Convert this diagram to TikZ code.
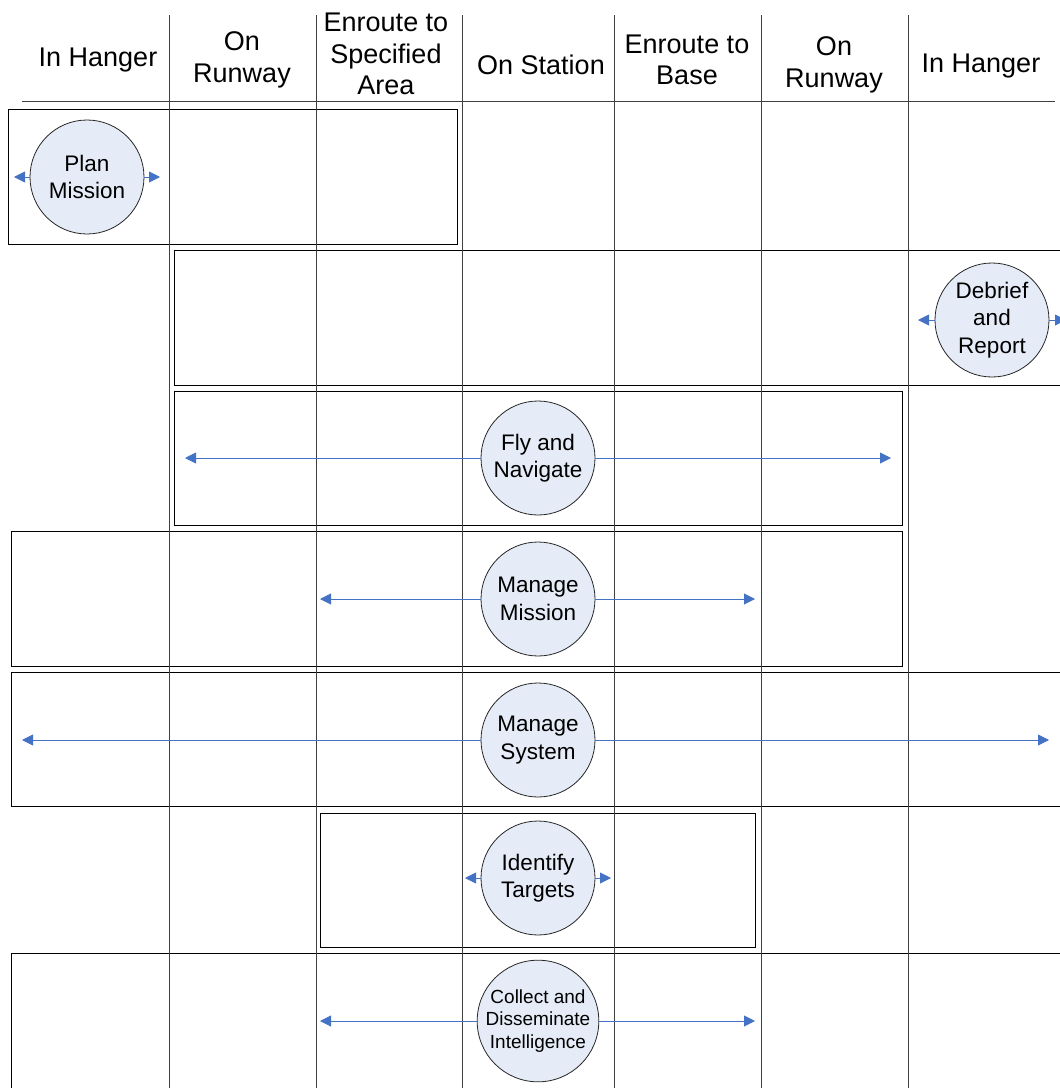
\documentclass[tikz,border=0pt]{standalone}
\usepackage{fontspec}
\setmainfont{Liberation Sans}
\usepackage{tikz}
\usetikzlibrary{arrows.meta,positioning}

\definecolor{taskfill}{RGB}{230,236,247}
\definecolor{flowblue}{RGB}{68,114,196}

\begin{document}
\begin{tikzpicture}[x=1pt, y=-1pt,
    phase/.style={align=center, font=\fontsize{27}{31.5}\selectfont},
    lane/.style={draw=black, line width=0.9pt},
    grid/.style={draw=black!75, line width=1pt},
    task/.style={shape=circle, draw=black!85, line width=0.8pt, fill=taskfill,
                 minimum size=114pt, inner sep=0pt, align=center,
                 font=\fontsize{22.5}{27.5}\selectfont},
    flow/.style={draw=flowblue, line width=0.9pt,
                 -{Triangle[length=11pt, width=11pt, fill=flowblue]}}]
      \clip (0,0) rectangle (1060,1088);
      \useasboundingbox (0,0) rectangle (1060,1088);

      % lanes
      \draw[lane] (8,109) rectangle (457,244);
      \draw[lane] (174,250) rectangle (1080,385);
      \draw[lane] (174,391) rectangle (902,525);
      \draw[lane] (11,531) rectangle (902,666);
      \draw[lane] (11,672) rectangle (1080,806);
      \draw[lane] (320,813) rectangle (755,947);
      \draw[lane] (11,953) rectangle (1080,1100);

      % phase columns
      \foreach \x in {169,316,462,614,761,908}
        \draw[grid] (\x,15) -- (\x,1090);
      \draw[grid] (22,101) -- (1055,101);

      \node[phase] (hangerA) at (98,60) {In Hanger};
      \node[phase] (runwayA) at (242,60) {On\\Runway};
      \node[phase] (enrArea) at (386,54) {Enroute to\\Specified\\Area};
      \node[phase] (station) at (541,65) {On Station};
      \node[phase] (enrBase) at (687,60) {Enroute to\\Base};
      \node[phase] (runwayB) at (834,65) {On\\Runway};
      \node[phase] (hangerB) at (981,66) {In Hanger};

      % tasks
      \node[task] (plan) at (87,177) {Plan\\Mission};
      \node[task] (debrief) at (992,320) {Debrief\\and\\Report};
      \node[task] (fly) at (538,458) {Fly and\\Navigate};
      \node[task] (mission) at (538,599) {Manage\\Mission};
      \node[task] (system) at (538,740) {Manage\\System};
      \node[task] (identify) at (538,878) {Identify\\Targets};
      \node[task, font=\fontsize{19}{22.5}\selectfont] (collect) at (538,1021)
           {Collect and\\Disseminate\\Intelligence};

      \coordinate (planL) at (14,177);
      \coordinate (planR) at (160,177);
      \coordinate (debriefL) at (918,320);
      \coordinate (debriefR) at (1066,320);
      \coordinate (flyL) at (185,458);
      \coordinate (flyR) at (891,458);
      \coordinate (missionL) at (320,599);
      \coordinate (missionR) at (755,599);
      \coordinate (systemL) at (22,740);
      \coordinate (systemR) at (1049,740);
      \coordinate (identifyL) at (465,878);
      \coordinate (identifyR) at (611,878);
      \coordinate (collectL) at (320,1021);
      \coordinate (collectR) at (755,1021);

      \foreach \t in {plan,debrief,fly,mission,system,identify,collect} {
        \draw[flow] (\t) -- (\t L);
        \draw[flow] (\t) -- (\t R);
      }
\end{tikzpicture}
\end{document}
